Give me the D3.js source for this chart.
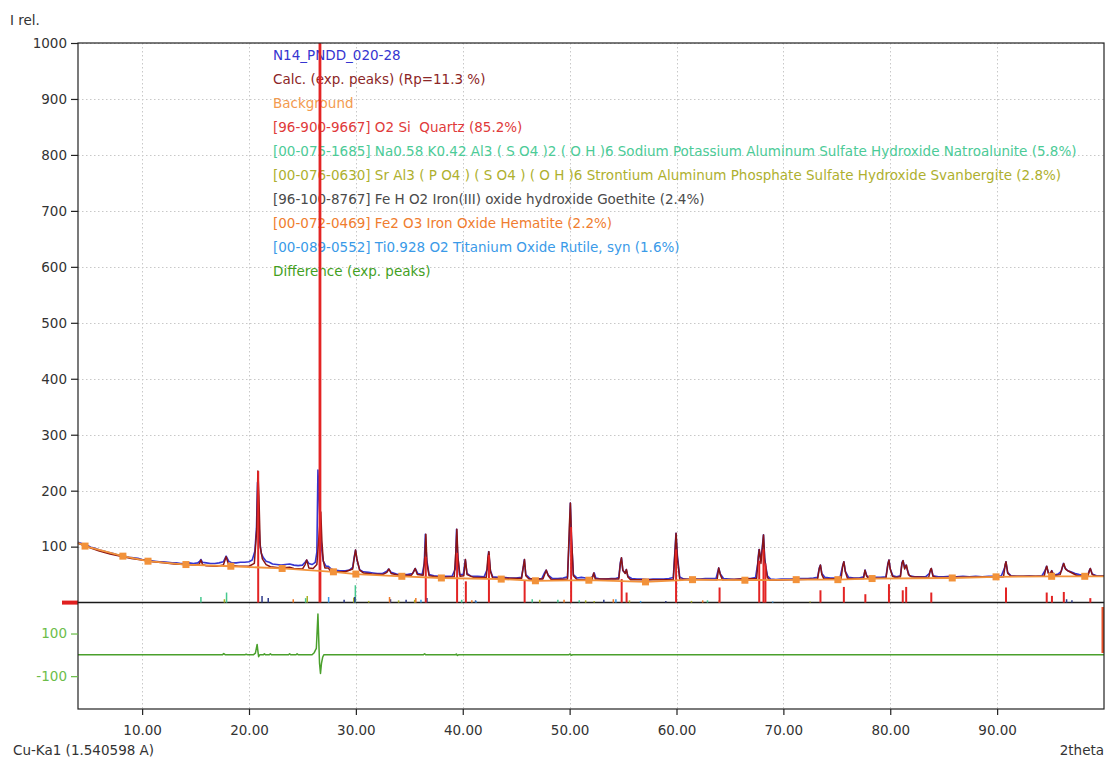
<!DOCTYPE html>
<html>
<head>
<meta charset="utf-8">
<script src="https://cdn.jsdelivr.net/npm/d3@7"></script>
<style>
  html, body { margin: 0; padding: 0; background: #fff; }
  svg { display: block; font-family: "DejaVu Sans", Verdana, sans-serif; }
</style>
</head>
<body>
<svg id="chart" width="1107" height="760"></svg>
<script>
// ---- Pattern data: [2theta, intensity] ----
const observed = [
[4.0,108],[4.4,105],[4.8,103],[5.2,99],[5.6,97],[6.0,94],[6.4,92],[6.8,90],[7.2,88],[7.6,86],[8.0,85],[8.4,83],[8.8,81],[9.2,80],[9.6,79],[10.0,77],[10.4,76],[10.8,75],[11.2,74],[11.6,73],[12.0,73],[12.4,72],[12.8,71],[13.2,71],[13.6,70],[14.0,70],[14.4,71],[14.8,70],[15.2,71],[15.4,74],[15.5,77],[15.65,72],[16.0,71],[16.4,70],[16.8,70],[17.2,71],[17.6,73],[17.86,83],[18.1,74],[18.4,71],[18.8,71],[19.2,72],[19.6,72],[20.0,73],[20.3,76],[20.55,92],[20.7,133],[20.8,215],[20.9,160],[21.0,110],[21.15,88],[21.35,80],[21.6,74],[21.9,72],[22.2,69],[22.6,68],[23.0,67],[23.4,68],[23.8,69],[24.2,67],[24.6,66],[25.0,67],[25.25,72],[25.4,76],[25.6,70],[25.9,68],[26.2,72],[26.35,90],[26.45,237],[26.55,190],[26.68,130],[26.8,95],[26.95,74],[27.2,65],[27.42,65],[27.7,60],[28.0,58],[28.5,57],[29.0,57],[29.4,58],[29.7,63],[29.85,82],[29.97,94],[30.1,76],[30.35,59],[30.7,55],[31.2,54],[31.6,53],[32.0,52],[32.5,52],[32.9,56],[33.06,60],[33.3,54],[33.8,51],[34.3,50],[34.8,50],[35.3,52],[35.55,61],[35.8,52],[36.2,50],[36.4,70],[36.5,122],[36.62,78],[36.85,50],[37.3,48],[37.8,47],[38.4,47],[39.0,47],[39.3,60],[39.42,131],[39.52,88],[39.7,50],[40.05,50],[40.24,77],[40.4,52],[40.8,47],[41.4,47],[42.0,46],[42.3,60],[42.42,91],[42.58,58],[42.8,46],[43.3,45],[43.8,45],[44.4,44],[45.0,44],[45.5,45],[45.68,66],[45.76,77],[45.9,50],[46.3,43],[46.9,42],[47.4,43],[47.65,53],[47.8,58],[48.0,49],[48.4,43],[48.9,43],[49.4,44],[49.8,46],[49.98,120],[50.07,178],[50.17,115],[50.35,50],[50.7,44],[51.1,45],[51.5,44],[51.9,43],[52.15,47],[52.3,53],[52.45,44],[52.9,42],[53.4,42],[53.9,43],[54.3,43],[54.6,45],[54.75,72],[54.85,80],[54.98,57],[55.2,53],[55.3,59],[55.45,47],[55.8,43],[56.3,42],[56.8,42],[57.3,41],[57.8,42],[58.3,42],[58.8,42],[59.3,43],[59.7,45],[59.88,100],[59.95,124],[60.08,85],[60.3,46],[60.7,42],[61.2,41],[61.7,42],[62.2,42],[62.7,43],[63.2,43],[63.7,43],[63.95,62],[64.1,51],[64.4,43],[64.9,42],[65.4,41],[65.9,42],[66.4,43],[66.9,43],[67.4,45],[67.6,70],[67.72,95],[67.88,75],[68.03,100],[68.14,121],[68.25,80],[68.33,68],[68.5,48],[68.8,42],[69.3,41],[69.8,42],[70.3,42],[70.8,42],[71.3,43],[71.8,43],[72.3,43],[72.8,44],[73.2,45],[73.36,62],[73.47,67],[73.6,52],[73.9,45],[74.4,44],[74.9,44],[75.3,45],[75.55,66],[75.66,73],[75.8,56],[76.1,45],[76.6,44],[77.1,44],[77.5,46],[77.65,58],[77.8,48],[78.1,44],[78.6,45],[79.1,45],[79.6,46],[79.78,70],[79.88,76],[80.0,60],[80.25,48],[80.6,46],[80.95,48],[81.1,72],[81.2,75],[81.35,62],[81.47,67],[81.6,58],[81.8,48],[82.3,46],[82.8,46],[83.3,46],[83.65,52],[83.84,61],[84.0,48],[84.5,46],[85.0,46],[85.6,47],[86.2,46],[86.8,47],[87.4,46],[88.0,47],[88.6,46],[89.2,47],[89.8,47],[90.4,48],[90.7,62],[90.83,73],[90.98,54],[91.3,48],[91.8,47],[92.4,47],[93.0,48],[93.6,47],[94.2,48],[94.5,58],[94.62,65],[94.8,53],[94.98,52],[95.12,57],[95.3,49],[95.7,51],[96.0,56],[96.2,70],[96.35,62],[96.6,57],[96.9,55],[97.3,52],[97.7,50],[98.1,49],[98.5,50],[98.65,58],[98.72,61],[98.9,51],[99.3,48],[99.7,48],[100,48]
];

const calculated = [
[4.0,106],[5.0,99],[6.0,92],[7.0,87],[8.0,83],[9.0,79],[10.0,76],[11.0,73],[12.0,71],[13.0,69],[14.0,68],[15.0,67],[15.35,69],[15.5,76],[15.65,68],[16.0,66],[17.0,65],[17.6,67],[17.86,82],[18.1,67],[19.0,65],[20.0,65],[20.5,70],[20.72,130],[20.83,235],[20.93,190],[21.05,100],[21.25,78],[21.6,68],[22.0,64],[23.0,62],[23.8,63],[24.2,61],[25.0,60],[25.25,68],[25.4,76],[25.6,62],[26.0,61],[26.35,68],[26.55,120],[26.72,162],[26.82,110],[26.95,75],[27.1,62],[27.42,62],[27.6,57],[28.0,55],[29.0,55],[29.7,60],[29.85,80],[29.97,94],[30.1,78],[30.35,58],[30.7,53],[31.5,51],[32.5,50],[32.9,54],[33.1,60],[33.3,52],[34.0,49],[35.2,49],[35.4,55],[35.55,61],[35.75,50],[36.3,49],[36.45,82],[36.55,122],[36.65,70],[36.85,48],[38.0,45],[39.2,46],[39.35,89],[39.45,131],[39.55,80],[39.75,47],[40.1,48],[40.25,77],[40.4,50],[41.0,45],[42.2,45],[42.35,80],[42.45,91],[42.6,55],[42.8,44],[45.5,43],[45.68,65],[45.78,77],[45.9,48],[46.2,42],[47.5,42],[47.7,52],[47.82,58],[48.0,48],[48.3,41],[49.8,42],[49.98,139],[50.07,178],[50.17,120],[50.35,48],[50.7,41],[52.1,41],[52.25,53],[52.4,42],[54.6,42],[54.75,70],[54.85,80],[54.98,58],[55.2,52],[55.32,59],[55.45,46],[55.7,41],[59.7,41],[59.88,97],[59.96,124],[60.08,80],[60.3,42],[63.8,41],[63.95,62],[64.1,50],[64.3,41],[67.5,43],[67.65,80],[67.75,95],[67.9,70],[68.05,100],[68.14,121],[68.25,77],[68.33,65],[68.5,45],[68.7,40],[73.2,42],[73.35,60],[73.47,67],[73.6,50],[73.8,42],[75.4,43],[75.55,65],[75.66,73],[75.8,55],[76.0,43],[77.5,43],[77.63,58],[77.78,48],[77.95,43],[79.6,44],[79.78,68],[79.88,76],[80.0,60],[80.2,47],[80.5,45],[80.95,46],[81.1,70],[81.2,75],[81.35,60],[81.45,65],[81.52,67],[81.7,50],[82.0,46],[83.6,45],[83.75,58],[83.84,61],[84.0,47],[84.3,45],[90.6,46],[90.75,68],[90.83,73],[91.0,52],[91.3,47],[94.4,47],[94.55,60],[94.65,65],[94.8,52],[94.95,50],[95.1,57],[95.3,48],[95.9,50],[96.1,63],[96.24,70],[96.4,60],[96.7,56],[97.1,52],[97.5,48],[98.5,48],[98.65,58],[98.72,61],[98.9,50],[99.3,47],[100,47]
];

// Background knots (drawn with square markers)
const background = [
[4.0,107],[4.66,101],[8.2,83],[10.55,74],[14.1,68],[18.3,65],[23.1,61],[27.9,55],[30.0,51],[34.3,47],[38.0,44],[43.6,42],[46.8,39],[51.8,40],[57.1,37],[61.5,41],[66.4,40],[71.2,41],[75.1,41],[78.3,43],[85.8,44],[89.9,46],[95.1,47],[98.2,47],[100,47]
];

// Difference (observed - calculated), lower panel
const difference = [
[4,0],[17.5,0],[17.64,6],[17.8,0],[19.6,0],[19.73,3],[19.9,0],[20.4,0],[20.6,8],[20.76,49],[20.85,10],[20.9,-9],[21.0,0],[21.35,0],[21.44,5],[21.55,0],[21.9,0],[22.0,5],[22.1,0],[23.7,0],[23.8,5],[23.9,0],[24.4,0],[24.5,5],[24.6,0],[25.9,0],[26.1,10],[26.3,30],[26.45,191],[26.5,110],[26.6,-40],[26.69,-87],[26.78,-40],[26.9,-10],[27.0,0],[36.3,0],[36.43,5],[36.55,0],[39.3,0],[39.4,4],[39.48,-3],[39.6,0],[49.9,0],[50.05,4],[50.15,-2],[50.3,0],[100,0]
];

// Reference peak positions of each phase: [2theta, intensity]
const quartzSticks = [
[20.86,235],[26.64,1000],[36.54,82],[39.47,89],[40.29,38],[42.45,85],[45.79,40],[50.14,135],[54.87,42],[55.33,18],[59.96,95],[64.03,27],[67.74,75],[68.14,95],[68.32,70],[73.47,22],[75.66,28],[77.67,15],[79.88,33],[81.17,22],[81.49,28],[83.84,18],[90.83,27],[94.64,18],[95.13,12],[96.24,19],[98.72,8]
];
const natroaluniteSticks = [[15.5,10],[17.9,18],[25.3,8],[29.95,31],[39.9,5],[46.5,6],[48.9,5],[50.9,4],[62.9,4]];
const svanbergiteSticks = [[17.7,6],[25.45,12],[29.8,9],[31.2,3],[34.0,4],[35.5,5],[47.2,5],[51.5,4],[52.3,3],[55.6,4],[61.4,3],[72.5,2]];
const goethiteSticks = [[21.22,12],[21.8,8],[28.9,5],[29.9,10],[33.24,6],[34.7,5],[36.65,8],[41.2,4],[53.2,5],[59.0,3],[96.5,6],[97.0,4]];
const hematiteSticks = [[24.14,6],[33.15,10],[35.61,8],[40.85,4],[49.48,5],[54.09,6],[62.45,4],[64.0,4]];
const rutileSticks = [[27.45,10],[36.09,5],[41.25,3],[54.33,6],[56.64,3],[69.0,2]];

// Legend lines
const legendLabels = [
  "N14_PNDD_020-28",
  "Calc. (exp. peaks) (Rp=11.3 %)",
  "Background",
  "[96-900-9667] O2 Si  Quartz (85.2%)",
  "[00-075-1685] Na0.58 K0.42 Al3 ( S O4 )2 ( O H )6 Sodium Potassium Aluminum Sulfate Hydroxide Natroalunite (5.8%)",
  "[00-076-0630] Sr Al3 ( P O4 ) ( S O4 ) ( O H )6 Strontium Aluminum Phosphate Sulfate Hydroxide Svanbergite (2.8%)",
  "[96-100-8767] Fe H O2 Iron(III) oxide hydroxide Goethite (2.4%)",
  "[00-072-0469] Fe2 O3 Iron Oxide Hematite (2.2%)",
  "[00-089-0552] Ti0.928 O2 Titanium Oxide Rutile, syn (1.6%)",
  "Difference (exp. peaks)"
];
const xTicks = [10, 20, 30, 40, 50, 60, 70, 80, 90];
const yTicks = [100, 200, 300, 400, 500, 600, 700, 800, 900, 1000];
const diffTicks = [100, -100];

// ---- Styling ----
const FONT = "DejaVu Sans, Verdana, sans-serif";
const FS = 13.5;
const C = {
  obs: "#3535d0", calc: "#8a1414", bg: "#f2923a", quartz: "#e32424",
  natro: "#46c98f", svan: "#a9b025", hem: "#f07a28",
  rut: "#3b9be8", diff: "#4aa02c", axis: "#222", text: "#333", grid: "#c8c8c8"
};
const legendColors = [C.obs, "#8c2626", "#f39a4e", "#e03a3a", "#4ccb97", "#aeb02e", "#4a4a4a", "#f07d2e", "#3a9ae8", "#43a01e"];

const L = 78, R = 1104, T = 43, MID = 602.6, B = 709;

const svg = d3.select("#chart");
const x = d3.scaleLinear().domain([4, 100]).range([L, R]);
const y = d3.scaleLinear().domain([0, 1000]).range([MID, T]);
const yD = d3.scaleLinear().domain([-254, 245]).range([B, MID]);

// Grid (dotted)
const grid = svg.append("g").attr("stroke", C.grid).attr("stroke-width", 1).attr("stroke-dasharray", "1.5,2.5");
grid.selectAll("line.v").data(xTicks).join("line")
  .attr("x1", d => Math.round(x(d)) + 0.5).attr("x2", d => Math.round(x(d)) + 0.5)
  .attr("y1", T).attr("y2", B);
grid.selectAll("line.h").data(yTicks).join("line")
  .attr("x1", L).attr("x2", R)
  .attr("y1", d => Math.round(y(d)) + 0.5).attr("y2", d => Math.round(y(d)) + 0.5);

// Legend text
svg.append("g").selectAll("text").data(legendLabels).join("text")
  .attr("x", 273).attr("y", (d, i) => 60 + i * 24)
  .attr("font-size", FS).attr("font-family", FONT).attr("fill", (d, i) => legendColors[i])
  .style("white-space", "pre")
  .text(d => d);

// Panel separator (zero line of upper panel)
svg.append("line").attr("x1", L).attr("x2", R).attr("y1", MID).attr("y2", MID)
  .attr("stroke", "#1a1a1a").attr("stroke-width", 1.5);

const line = d3.line().x(d => x(d[0])).y(d => y(d[1]));

// Observed and calculated profiles
svg.append("path").datum(observed).attr("d", line)
  .attr("fill", "none").attr("stroke", C.obs).attr("stroke-width", 1.6).attr("stroke-linejoin", "round");
svg.append("path").datum(calculated).attr("d", line)
  .attr("fill", "none").attr("stroke", C.calc).attr("stroke-width", 1.5).attr("stroke-linejoin", "round");

// Phase sticks
function sticks(data, color, width) {
  svg.append("g").selectAll("line").data(data).join("line")
    .attr("x1", d => x(d[0])).attr("x2", d => x(d[0]))
    .attr("y1", y(0)).attr("y2", d => y(d[1]))
    .attr("stroke", color).attr("stroke-width", d => d[1] >= 1000 ? width + 0.8 : width);
}
sticks(natroaluniteSticks, C.natro, 1.5);
sticks(svanbergiteSticks, C.svan, 1.5);
sticks(goethiteSticks, "#2e3a8a", 1.5);
sticks(hematiteSticks, C.hem, 1.5);
sticks(rutileSticks, C.rut, 1.5);
sticks(quartzSticks, C.quartz, 2);

// Background with knot markers
svg.append("path").datum(background).attr("d", line)
  .attr("fill", "none").attr("stroke", C.bg).attr("stroke-width", 1.8);
svg.append("g").selectAll("rect").data(background.slice(1, -1)).join("rect")
  .attr("x", d => x(d[0]) - 3.5).attr("y", d => y(d[1]) - 3.5)
  .attr("width", 7).attr("height", 7).attr("fill", C.bg);

// Difference curve
const dline = d3.line().x(d => x(d[0])).y(d => yD(d[1]));
svg.append("path").datum(difference).attr("d", dline)
  .attr("fill", "none").attr("stroke", C.diff).attr("stroke-width", 1.5).attr("stroke-linejoin", "round");

// Markers at panel edges
svg.append("rect").attr("x", 62).attr("y", MID - 2).attr("width", 16).attr("height", 4).attr("fill", "#e02020");
svg.append("rect").attr("x", R - 2.5).attr("y", 607).attr("width", 2.5).attr("height", 46).attr("fill", "#e8502a");

// Frame
svg.append("rect").attr("x", L).attr("y", T).attr("width", R - L).attr("height", B - T)
  .attr("fill", "none").attr("stroke", C.axis).attr("stroke-width", 1.2);

// Axes
const xAxis = svg.append("g").attr("transform", `translate(0,${B})`)
  .call(d3.axisBottom(x).tickValues(xTicks).tickFormat(d3.format(".2f")).tickSize(6).tickPadding(10).tickSizeOuter(0));
const yAxis = svg.append("g").attr("transform", `translate(${L},0)`)
  .call(d3.axisLeft(y).tickValues(yTicks).tickFormat(d => String(d)).tickSize(7).tickPadding(4).tickSizeOuter(0));
const dAxis = svg.append("g").attr("transform", `translate(${L},0)`)
  .call(d3.axisLeft(yD).tickValues(diffTicks).tickFormat(d => String(d)).tickSize(7).tickPadding(4).tickSizeOuter(0));

[xAxis, yAxis].forEach(g => {
  g.select(".domain").remove();
  g.selectAll(".tick line").attr("stroke", C.axis).attr("stroke-width", 1.2);
  g.selectAll(".tick text").attr("fill", C.text).attr("font-size", FS).attr("font-family", FONT);
});
dAxis.select(".domain").remove();
dAxis.selectAll(".tick line").attr("stroke", "#66bb44").attr("stroke-width", 1.2);
dAxis.selectAll(".tick text").attr("fill", "#6cbd4a").attr("font-size", FS).attr("font-family", FONT);

// Axis titles
svg.append("text").attr("x", 10).attr("y", 25).attr("font-size", FS).attr("font-family", FONT).attr("fill", C.text).text("I rel.");
svg.append("text").attr("x", 13).attr("y", 755).attr("font-size", FS).attr("font-family", FONT).attr("fill", C.text).text("Cu-Ka1 (1.540598 A)");
svg.append("text").attr("x", 1104).attr("y", 755).attr("text-anchor", "end").attr("font-size", FS).attr("font-family", FONT).attr("fill", C.text).text("2theta");
</script>
</body>
</html>
